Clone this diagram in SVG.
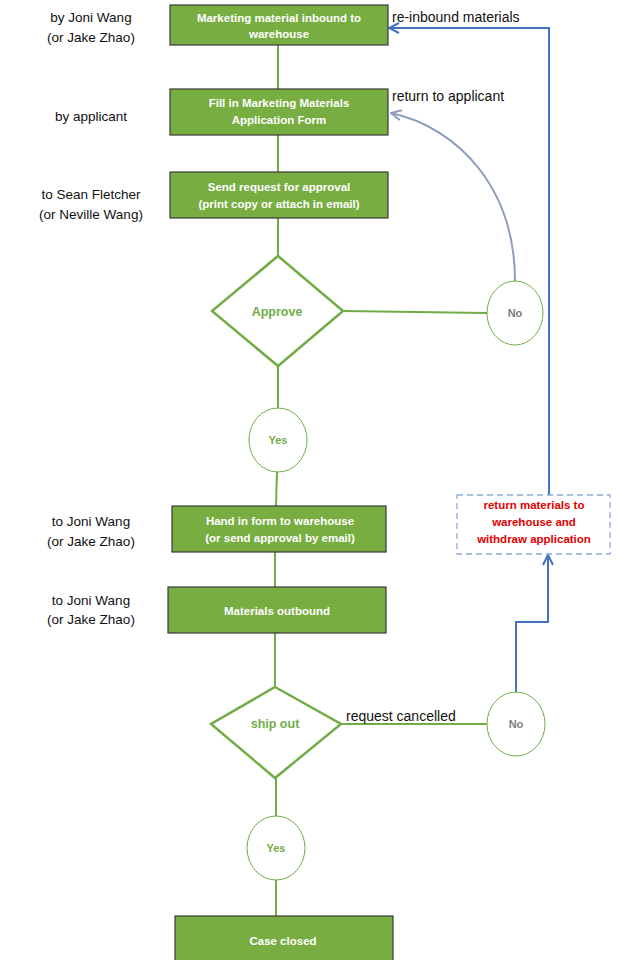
<svg xmlns="http://www.w3.org/2000/svg" width="619" height="960" viewBox="0 0 619 960">
  <defs>
    <style>
      .box { fill: #77AD41; stroke: #3A3A3A; stroke-width: 1.2; }
      .boxtxt { fill: #FFFFFF; font-family: "Liberation Sans", Arial, sans-serif; font-size: 11.5px; font-weight: bold; text-anchor: middle; }
      .side { fill: #111111; font-family: "Liberation Sans", Arial, sans-serif; font-size: 13.5px; text-anchor: middle; }
      .lbl { fill: #111111; font-family: "Liberation Sans", Arial, sans-serif; font-size: 14px; }
      .dia { fill: #FFFFFF; stroke: #70AD47; stroke-width: 2.5; }
      .diatxt { fill: #70AD47; font-family: "Liberation Sans", Arial, sans-serif; font-size: 12.5px; font-weight: bold; text-anchor: middle; }
      .circ { fill: #FFFFFF; stroke: #70AD47; stroke-width: 1; }
      .yes { fill: #70AD47; font-family: "Liberation Sans", Arial, sans-serif; font-size: 11px; font-weight: bold; text-anchor: middle; }
      .no { fill: #7F7F7F; font-family: "Liberation Sans", Arial, sans-serif; font-size: 11px; font-weight: bold; text-anchor: middle; }
      .flow { fill: none; stroke: #70AD47; stroke-width: 2; }
      .back { fill: none; stroke: #4472C4; stroke-width: 2; }
      .soft { fill: none; stroke: #8E9DBE; stroke-width: 2; }
      .note { fill: #FFFFFF; stroke: #8FAADC; stroke-width: 1.3; stroke-dasharray: 6 4; }
      .notetxt { fill: #E00000; font-family: "Liberation Sans", Arial, sans-serif; font-size: 11.5px; font-weight: bold; text-anchor: middle; }
    </style>
    <marker id="openBlue" viewBox="0 0 12 12" refX="11" refY="6" markerWidth="12" markerHeight="12" markerUnits="userSpaceOnUse" orient="auto">
      <path d="M1,1 L11,6 L1,11" fill="none" stroke="#4472C4" stroke-width="2"/>
    </marker>
    <marker id="openGrey" viewBox="0 0 12 12" refX="11" refY="6" markerWidth="12" markerHeight="12" markerUnits="userSpaceOnUse" orient="auto">
      <path d="M1,1 L11,6 L1,11" fill="none" stroke="#8E9DBE" stroke-width="2"/>
    </marker>
  </defs>

  <rect width="619" height="960" fill="#FFFFFF"/>

  <!-- connectors -->
  <g id="connectors">
    <line class="flow" x1="278" y1="45" x2="278" y2="89"/>
    <line class="flow" x1="278" y1="135" x2="278" y2="172"/>
    <line class="flow" x1="278" y1="218" x2="278" y2="256"/>
    <line class="flow" x1="343" y1="311" x2="487" y2="313"/>
    <line class="flow" x1="278" y1="366" x2="278" y2="408"/>
    <line class="flow" x1="277" y1="472" x2="276" y2="506"/>
    <line class="flow" x1="275" y1="552" x2="275" y2="587"/>
    <line class="flow" x1="275" y1="633" x2="275" y2="687"/>
    <line class="flow" x1="341" y1="724" x2="487" y2="724"/>
    <line class="flow" x1="276" y1="778" x2="276" y2="816"/>
    <line class="flow" x1="276" y1="880" x2="276" y2="916"/>
    <path class="soft" d="M515,281 C515,190 460,128 391,113" marker-end="url(#openGrey)"/>
    <path class="back" d="M516,692 L516,622 L548,622 L548,555" marker-end="url(#openBlue)"/>
    <path class="back" d="M549,495 L549,28 L389,28" marker-end="url(#openBlue)"/>
  </g>

  <!-- process steps -->
  <g id="inbound">
    <rect class="box" x="170" y="5" width="218" height="40"/>
    <text class="boxtxt" x="279" y="22">Marketing material inbound to</text>
    <text class="boxtxt" x="279" y="38">warehouse</text>
  </g>
  <g id="fill-form">
    <rect class="box" x="170" y="89" width="218" height="46"/>
    <text class="boxtxt" x="279" y="107">Fill in Marketing Materials</text>
    <text class="boxtxt" x="279" y="124">Application Form</text>
  </g>
  <g id="send-request">
    <rect class="box" x="170" y="172" width="218" height="46"/>
    <text class="boxtxt" x="279" y="191">Send request for approval</text>
    <text class="boxtxt" x="279" y="208">(print copy or attach in email)</text>
  </g>
  <g id="approve">
    <polygon class="dia" points="278,256 343,311 278,366 212,311"/>
    <text class="diatxt" x="277" y="316">Approve</text>
  </g>
  <g id="approve-no">
    <ellipse class="circ" cx="515" cy="313" rx="28" ry="32"/>
    <text class="no" x="515" y="317">No</text>
  </g>
  <g id="approve-yes">
    <ellipse class="circ" cx="278" cy="440" rx="29" ry="32"/>
    <text class="yes" x="278" y="444">Yes</text>
  </g>
  <g id="hand-in">
    <rect class="box" x="172" y="506" width="214" height="46"/>
    <text class="boxtxt" x="280" y="525">Hand in form to warehouse</text>
    <text class="boxtxt" x="280" y="542">(or send approval by email)</text>
  </g>
  <g id="outbound">
    <rect class="box" x="168" y="587" width="218" height="46"/>
    <text class="boxtxt" x="277" y="615">Materials outbound</text>
  </g>
  <g id="ship-out">
    <polygon class="dia" points="275,687 341,724 275,778 211,724"/>
    <text class="diatxt" x="275" y="728">ship out</text>
  </g>
  <g id="ship-no">
    <ellipse class="circ" cx="516" cy="724" rx="29" ry="32"/>
    <text class="no" x="516" y="728">No</text>
  </g>
  <g id="ship-yes">
    <ellipse class="circ" cx="276" cy="848" rx="29" ry="32"/>
    <text class="yes" x="276" y="852">Yes</text>
  </g>
  <g id="case-closed">
    <rect class="box" x="175" y="916" width="218" height="50"/>
    <text class="boxtxt" x="283" y="945">Case closed</text>
  </g>
  <g id="withdraw">
    <rect class="note" x="457" y="495" width="153" height="59"/>
    <text class="notetxt" x="534" y="509">return materials to</text>
    <text class="notetxt" x="534" y="526">warehouse and</text>
    <text class="notetxt" x="534" y="543">withdraw application</text>
  </g>

  <!-- connector labels -->
  <g id="edge-labels">
    <text class="lbl" x="392" y="22">re-inbound materials</text>
    <text class="lbl" x="392" y="101">return to applicant</text>
    <text class="lbl" x="346" y="721">request cancelled</text>
  </g>

  <!-- responsibility notes -->
  <g id="roles">
    <text class="side" x="91" y="22">by Joni Wang</text>
    <text class="side" x="91" y="42">(or Jake Zhao)</text>
    <text class="side" x="91" y="121">by applicant</text>
    <text class="side" x="91" y="199">to Sean Fletcher</text>
    <text class="side" x="91" y="219">(or Neville Wang)</text>
    <text class="side" x="91" y="526">to Joni Wang</text>
    <text class="side" x="91" y="546">(or Jake Zhao)</text>
    <text class="side" x="91" y="605">to Joni Wang</text>
    <text class="side" x="91" y="624">(or Jake Zhao)</text>
  </g>
</svg>
